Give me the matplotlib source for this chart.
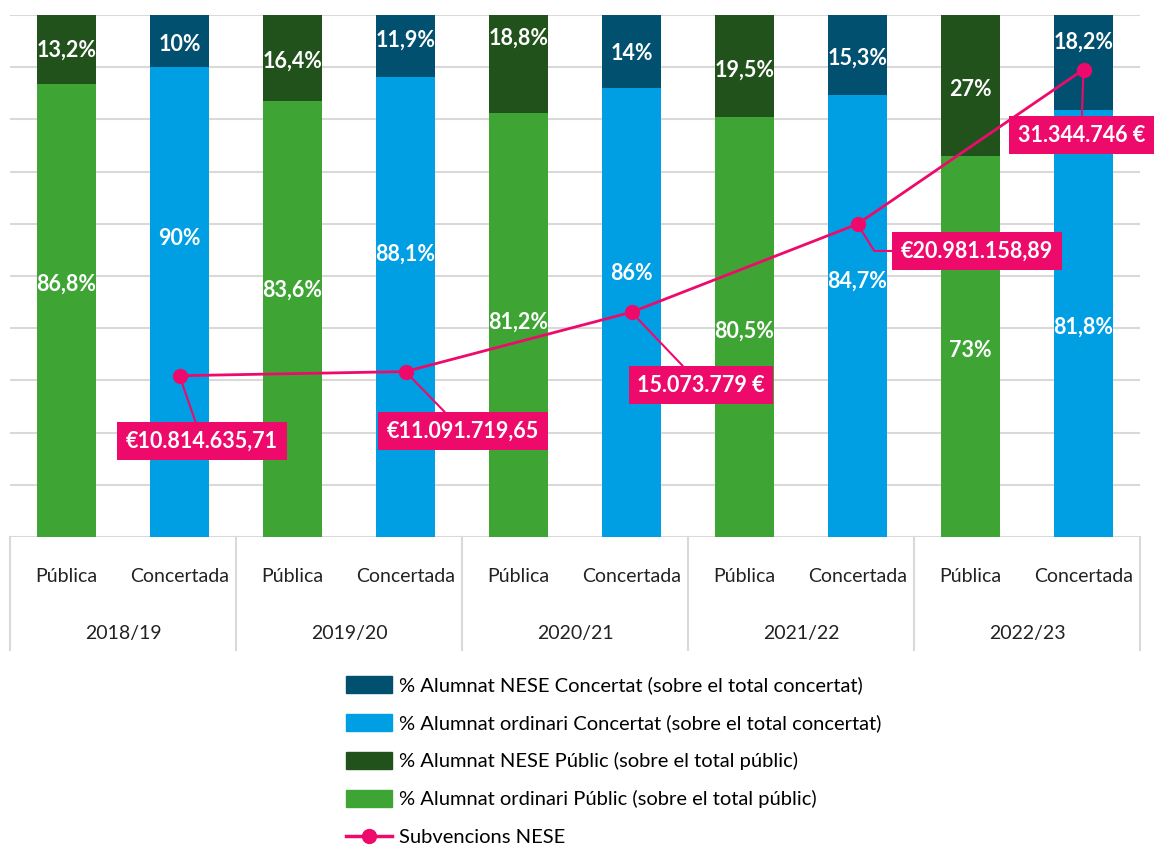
import matplotlib.pyplot as plt
import matplotlib.transforms as mtransforms
from matplotlib.patches import Patch
from matplotlib.lines import Line2D
import numpy as np

plt.rcParams['font.family'] = ['Lato', 'DejaVu Sans']

years = ['2018/19', '2019/20', '2020/21', '2021/22', '2022/23']
tipus = ['Pública', 'Concertada']

pub_ord = [86.8, 83.6, 81.2, 80.5, 73]
pub_nese = [13.2, 16.4, 18.8, 19.5, 27]
conc_ord = [90, 88.1, 86, 84.7, 81.8]
conc_nese = [10, 11.9, 14, 15.3, 18.2]

subv = [10814635.71, 11091719.65, 15073779, 20981158.89, 31344746]
subv_labels = ['€10.814.635,71', '€11.091.719,65', '15.073.779 €',
               '€20.981.158,89', '31.344.746 €']

# label heights (as placed by hand in the original)
pub_ord_ly = [48.5, 47.3, 41.2, 39.5, 35.8]
conc_ord_ly = [57.1, 54.2, 50.4, 49.0, 40.2]
pub_nese_ly = [93.3, 91.2, 95.6, 89.5, 85.8]
conc_nese_ly = [94.4, 95.2, 92.7, 91.8, 94.8]

# callout boxes: x offset from the point (in bar slots), y in euros
box_dx = [0.20, 0.51, 0.615, 1.058, -0.02]
box_y = [6.44e6, 7.11e6, 10.19e6, 19.18e6, 26.95e6]

c_nese_conc = '#02506F'
c_ord_conc = '#009FE3'
c_nese_pub = '#22521C'
c_ord_pub = '#3EA535'
c_pink = '#EE0A6B'
c_grid = '#D9D9D9'


def fmt(v):
    s = ('%.1f' % v) if v != int(v) else '%d' % v
    return s.replace('.', ',') + '%'


fig = plt.figure(figsize=(11.6, 8.48), dpi=100)
ax = fig.add_axes([10 / 1160, 311 / 848, 1130 / 1160, 522 / 848])

xp = np.arange(0, 10, 2)
xc = xp + 1
w = 0.53

for y in range(0, 101, 10):
    ax.axhline(y, color=c_grid, lw=1.5, zorder=0)

ax.bar(xp, pub_ord, w, color=c_ord_pub, zorder=2)
ax.bar(xp, pub_nese, w, bottom=pub_ord, color=c_nese_pub, zorder=2)
ax.bar(xc, conc_ord, w, color=c_ord_conc, zorder=2)
ax.bar(xc, conc_nese, w, bottom=conc_ord, color=c_nese_conc, zorder=2)

lab = dict(color='white', fontsize=15.5, fontweight='bold', ha='center', va='center', zorder=3)
for i in range(5):
    ax.text(xp[i], pub_ord_ly[i], fmt(pub_ord[i]), **lab)
    ax.text(xp[i], pub_nese_ly[i], fmt(pub_nese[i]), **lab)
    ax.text(xc[i], conc_ord_ly[i], fmt(conc_ord[i]), **lab)
    ax.text(xc[i], conc_nese_ly[i], fmt(conc_nese[i]), **lab)

ax.set_xlim(-0.5, 9.5)
ax.set_ylim(0, 100)
ax.set_xticks([])
ax.set_yticks([])
for s in ax.spines.values():
    s.set_visible(False)

# category axis
trans = mtransforms.blended_transform_factory(ax.transData, ax.transAxes)
for xb in [-0.5, 1.5, 3.5, 5.5, 7.5, 9.5]:
    ax.plot([xb, xb], [0, -113 / 522], color=c_grid, lw=1.5, transform=trans, clip_on=False)
for i in range(10):
    ax.text(i, -40 / 522, tipus[i % 2], transform=trans, ha='center', va='center',
            fontsize=14, color='#222222')
for i, yr in enumerate(years):
    ax.text(xp[i] + 0.5, -96 / 522, yr, transform=trans, ha='center', va='center',
            fontsize=14, color='#222222')

# subsidies line on a hidden second axis
ax2 = ax.twinx()
ax2.set_ylim(0, 35e6)
ax2.set_yticks([])
for s in ax2.spines.values():
    s.set_visible(False)
ax2.plot(xc, subv, color=c_pink, lw=2, marker='o', markersize=10, zorder=4)

for i in range(5):
    cs = 'angle,angleA=0,angleB=-58,rad=0' if i == 3 else 'arc3'
    rp = (0, 0.5) if i == 3 else (0.5, 0.5)
    ax2.annotate(subv_labels[i], xy=(xc[i], subv[i]), xytext=(xc[i] + box_dx[i], box_y[i]),
                 ha='center', va='center', color='white', fontsize=15.5, fontweight='bold',
                 bbox=dict(boxstyle='square,pad=0.4', fc=c_pink, ec='none'),
                 arrowprops=dict(arrowstyle='-', color=c_pink, lw=1.5, shrinkA=0, shrinkB=0,
                                 connectionstyle=cs, relpos=rp),
                 annotation_clip=False, zorder=5)

handles = [
    Patch(color=c_nese_conc, label='% Alumnat NESE Concertat (sobre el total concertat)'),
    Patch(color=c_ord_conc, label='% Alumnat ordinari Concertat (sobre el total concertat)'),
    Patch(color=c_nese_pub, label='% Alumnat NESE Públic (sobre el total públic)'),
    Patch(color=c_ord_pub, label='% Alumnat ordinari Públic (sobre el total públic)'),
    Line2D([], [], color=c_pink, lw=2.5, marker='o', markersize=10, label='Subvencions NESE'),
]
fig.legend(handles=handles, loc='upper left', bbox_to_anchor=(346 / 1160, (848 - 676) / 848),
           frameon=False, fontsize=14.5, borderaxespad=0, borderpad=0,
           handlelength=2.3, handleheight=0.9, handletextpad=0.35, labelspacing=0.98)

plt.savefig('out.png', dpi=100)
